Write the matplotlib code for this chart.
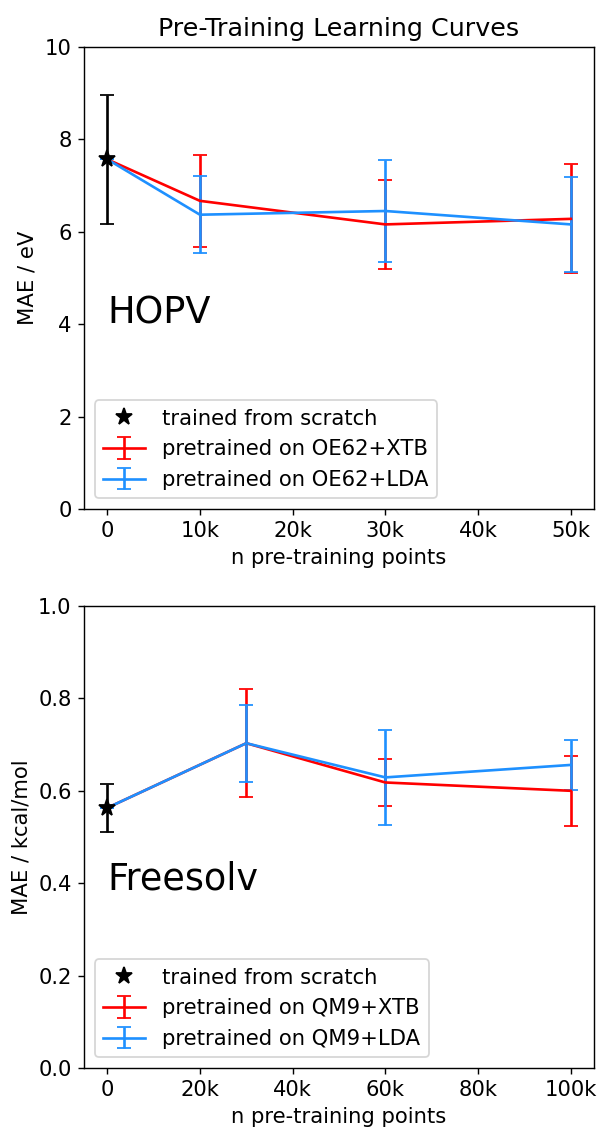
import matplotlib.pyplot as plt
from matplotlib.ticker import FuncFormatter

# HOPV panel
hopv_scratch = 7.57
hopv_scratch_err = 1.40
hopv_n = [0, 10000, 30000, 50000]
hopv_xtb = [7.57, 6.67, 6.16, 6.28]
hopv_xtb_err = [0, 1.00, 0.96, 1.18]
hopv_lda = [7.57, 6.37, 6.45, 6.16]
hopv_lda_err = [0, 0.83, 1.10, 1.02]

# Freesolv panel
fs_scratch = 0.563
fs_scratch_err = 0.052
fs_n = [0, 30000, 60000, 100000]
fs_xtb = [0.563, 0.703, 0.618, 0.600]
fs_xtb_err = [0, 0.117, 0.050, 0.076]
fs_lda = [0.563, 0.703, 0.629, 0.656]
fs_lda_err = [0, 0.083, 0.102, 0.054]

plt.rcParams["font.size"] = 12

fmt = FuncFormatter(lambda v, p: "0" if v == 0 else f"{int(v/1000)}k")

DPI = 127
fig = plt.figure(figsize=(598/DPI, 1127/DPI), dpi=DPI)
ax1 = fig.add_axes([84/598, 1 - 509/1127, 510/598, 462/1127])
ax2 = fig.add_axes([84/598, 1 - 1068/1127, 510/598, 462/1127])

panels = [
    (ax1, hopv_scratch, hopv_scratch_err, hopv_n, hopv_xtb, hopv_xtb_err,
     hopv_lda, hopv_lda_err, "OE62", "HOPV", 4.25, 10, "MAE / eV"),
    (ax2, fs_scratch, fs_scratch_err, fs_n, fs_xtb, fs_xtb_err,
     fs_lda, fs_lda_err, "QM9", "Freesolv", 0.41, 1.0, "MAE / kcal/mol"),
]

for ax, sc, sc_err, n, xtb, xtb_err, lda, lda_err, base, name, ty, ytop, ylab in panels:
    ax.errorbar([0], [sc], yerr=[sc_err], color="black", capsize=4, lw=1.5, fmt="none")
    ax.plot([0], [sc], "*", color="black", markersize=10, label="trained from scratch", zorder=5)
    ax.errorbar(n, xtb, yerr=xtb_err, color="red", capsize=4, lw=1.5,
                label=f"pretrained on {base}+XTB")
    ax.errorbar(n, lda, yerr=lda_err, color="dodgerblue", capsize=4, lw=1.5,
                label=f"pretrained on {base}+LDA")
    ax.set_ylim(0, ytop)
    ax.xaxis.set_major_formatter(fmt)
    ax.set_xlabel("n pre-training points")
    ax.set_ylabel(ylab)
    ax.text(0, ty, name, fontsize="xx-large", va="center")
    ax.legend(loc="lower left")

ax1.set_xticks([0, 10000, 20000, 30000, 40000, 50000])
ax2.set_xticks([0, 20000, 40000, 60000, 80000, 100000])
ax1.set_title("Pre-Training Learning Curves")

fig.savefig("out.png", dpi=DPI)
